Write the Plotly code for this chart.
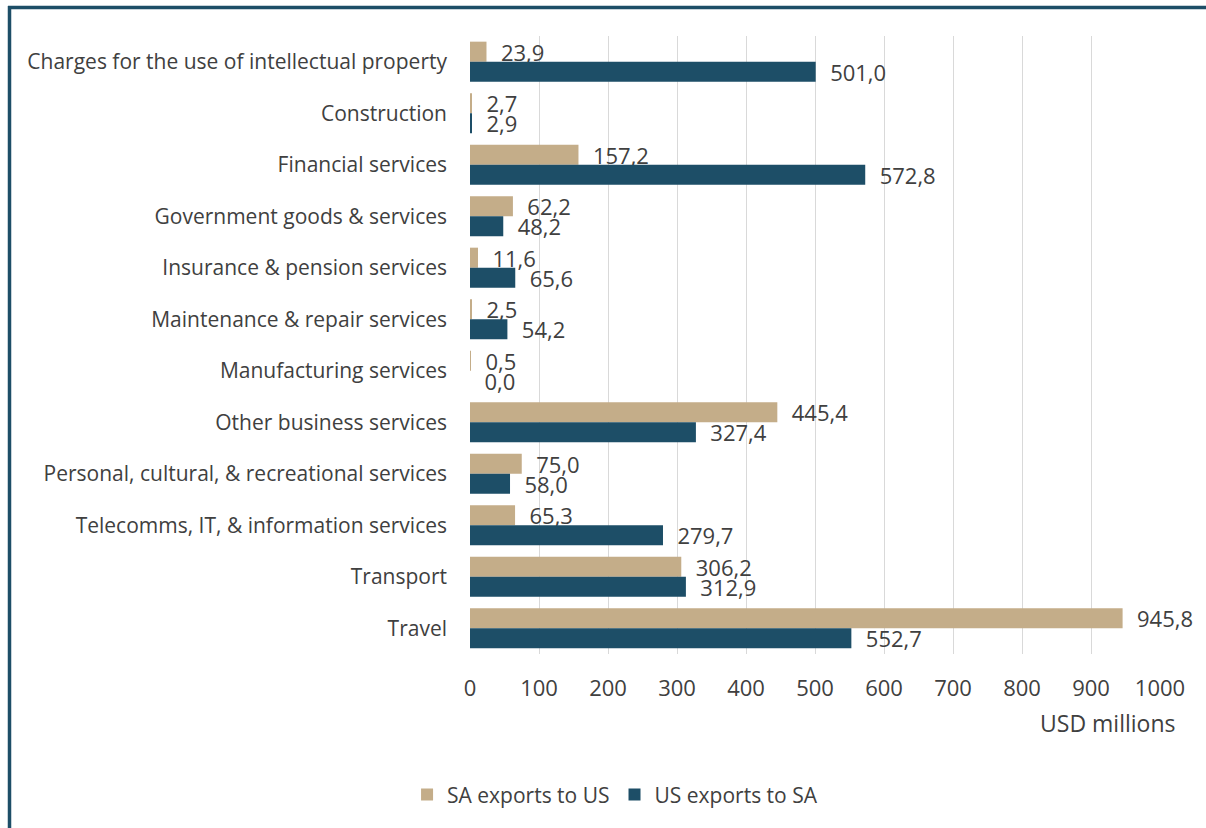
import plotly.graph_objects as go

categories = [
    "Charges for the use of intellectual property",
    "Construction",
    "Financial services",
    "Government goods & services",
    "Insurance & pension services",
    "Maintenance & repair services",
    "Manufacturing services",
    "Other business services",
    "Personal, cultural, & recreational services",
    "Telecomms, IT, & information services",
    "Transport",
    "Travel",
]
sa_exports_to_us = [23.9, 2.7, 157.2, 62.2, 11.6, 2.5, 0.5, 445.4, 75.0, 65.3, 306.2, 945.8]
us_exports_to_sa = [501.0, 2.9, 572.8, 48.2, 65.6, 54.2, 0.0, 327.4, 58.0, 279.7, 312.9, 552.7]
tick_values = [0, 100, 200, 300, 400, 500, 600, 700, 800, 900, 1000]

TAN = "#C4AD89"
BLUE = "#1D4E67"
TXT = "#404040"
FONT = "Open Sans"

fig = go.Figure()
for name, vals, col in [("SA exports to US", sa_exports_to_us, TAN),
                        ("US exports to SA", us_exports_to_sa, BLUE)]:
    fig.add_trace(go.Bar(
        name=name, y=categories, x=vals, orientation="h",
        marker=dict(color=col, line=dict(width=0)),
        texttemplate="\u00a0\u00a0%{x:.1f}", textposition="outside",
        textfont=dict(size=22, color=TXT, family=FONT),
        constraintext="none", cliponaxis=False,
        hoverinfo="skip",
    ))

W, H = 1206, 828
L, R, T, B = 470, 46, 36, 174

fig.update_layout(
    width=W, height=H,
    margin=dict(l=L, r=R, t=T, b=B),
    paper_bgcolor="white", plot_bgcolor="white",
    barmode="group", bargap=0.22, bargroupgap=0.0,
    separators=", ",
    font=dict(family=FONT, size=18, color=TXT),
    showlegend=True,
    legend=dict(orientation="h", xref="container", yref="container",
                x=0.51, y=0.04, xanchor="center", yanchor="middle",
                font=dict(size=21, color=TXT, family=FONT),
                traceorder="normal", itemwidth=30),
    xaxis=dict(range=[0, 1000], tickvals=tick_values, showgrid=True,
               gridcolor="#D9D9D9", gridwidth=1, zeroline=False,
               showline=False, ticks="", ticklabelstandoff=19,
               tickfont=dict(size=22, color=TXT, family=FONT)),
    yaxis=dict(autorange="reversed", showgrid=False, zeroline=False,
               showline=False, ticks="", ticklabelstandoff=22,
               tickfont=dict(size=21, color=TXT, family=FONT)),
)

fig.add_annotation(text="USD millions", xref="paper", yref="paper",
                   x=(1177 - L) / (W - L - R), y=-(723 - (H - B)) / (H - T - B),
                   xanchor="right", yanchor="middle", showarrow=False,
                   font=dict(size=23, color=TXT, family=FONT))

# frame (top and left border lines)
pw, ph = W - L - R, H - T - B
def px(x):
    return (x - L) / pw
def py(y):
    return (H - B - y) / ph
fig.add_shape(type="line", xref="paper", yref="paper", x0=px(8), x1=px(W + 5),
              y0=py(7.5), y1=py(7.5), line=dict(color=BLUE, width=3.5))
fig.add_shape(type="line", xref="paper", yref="paper", x0=px(9.5), x1=px(9.5),
              y0=py(6), y1=py(H + 5), line=dict(color=BLUE, width=3.5))

fig.write_html("out.html")
